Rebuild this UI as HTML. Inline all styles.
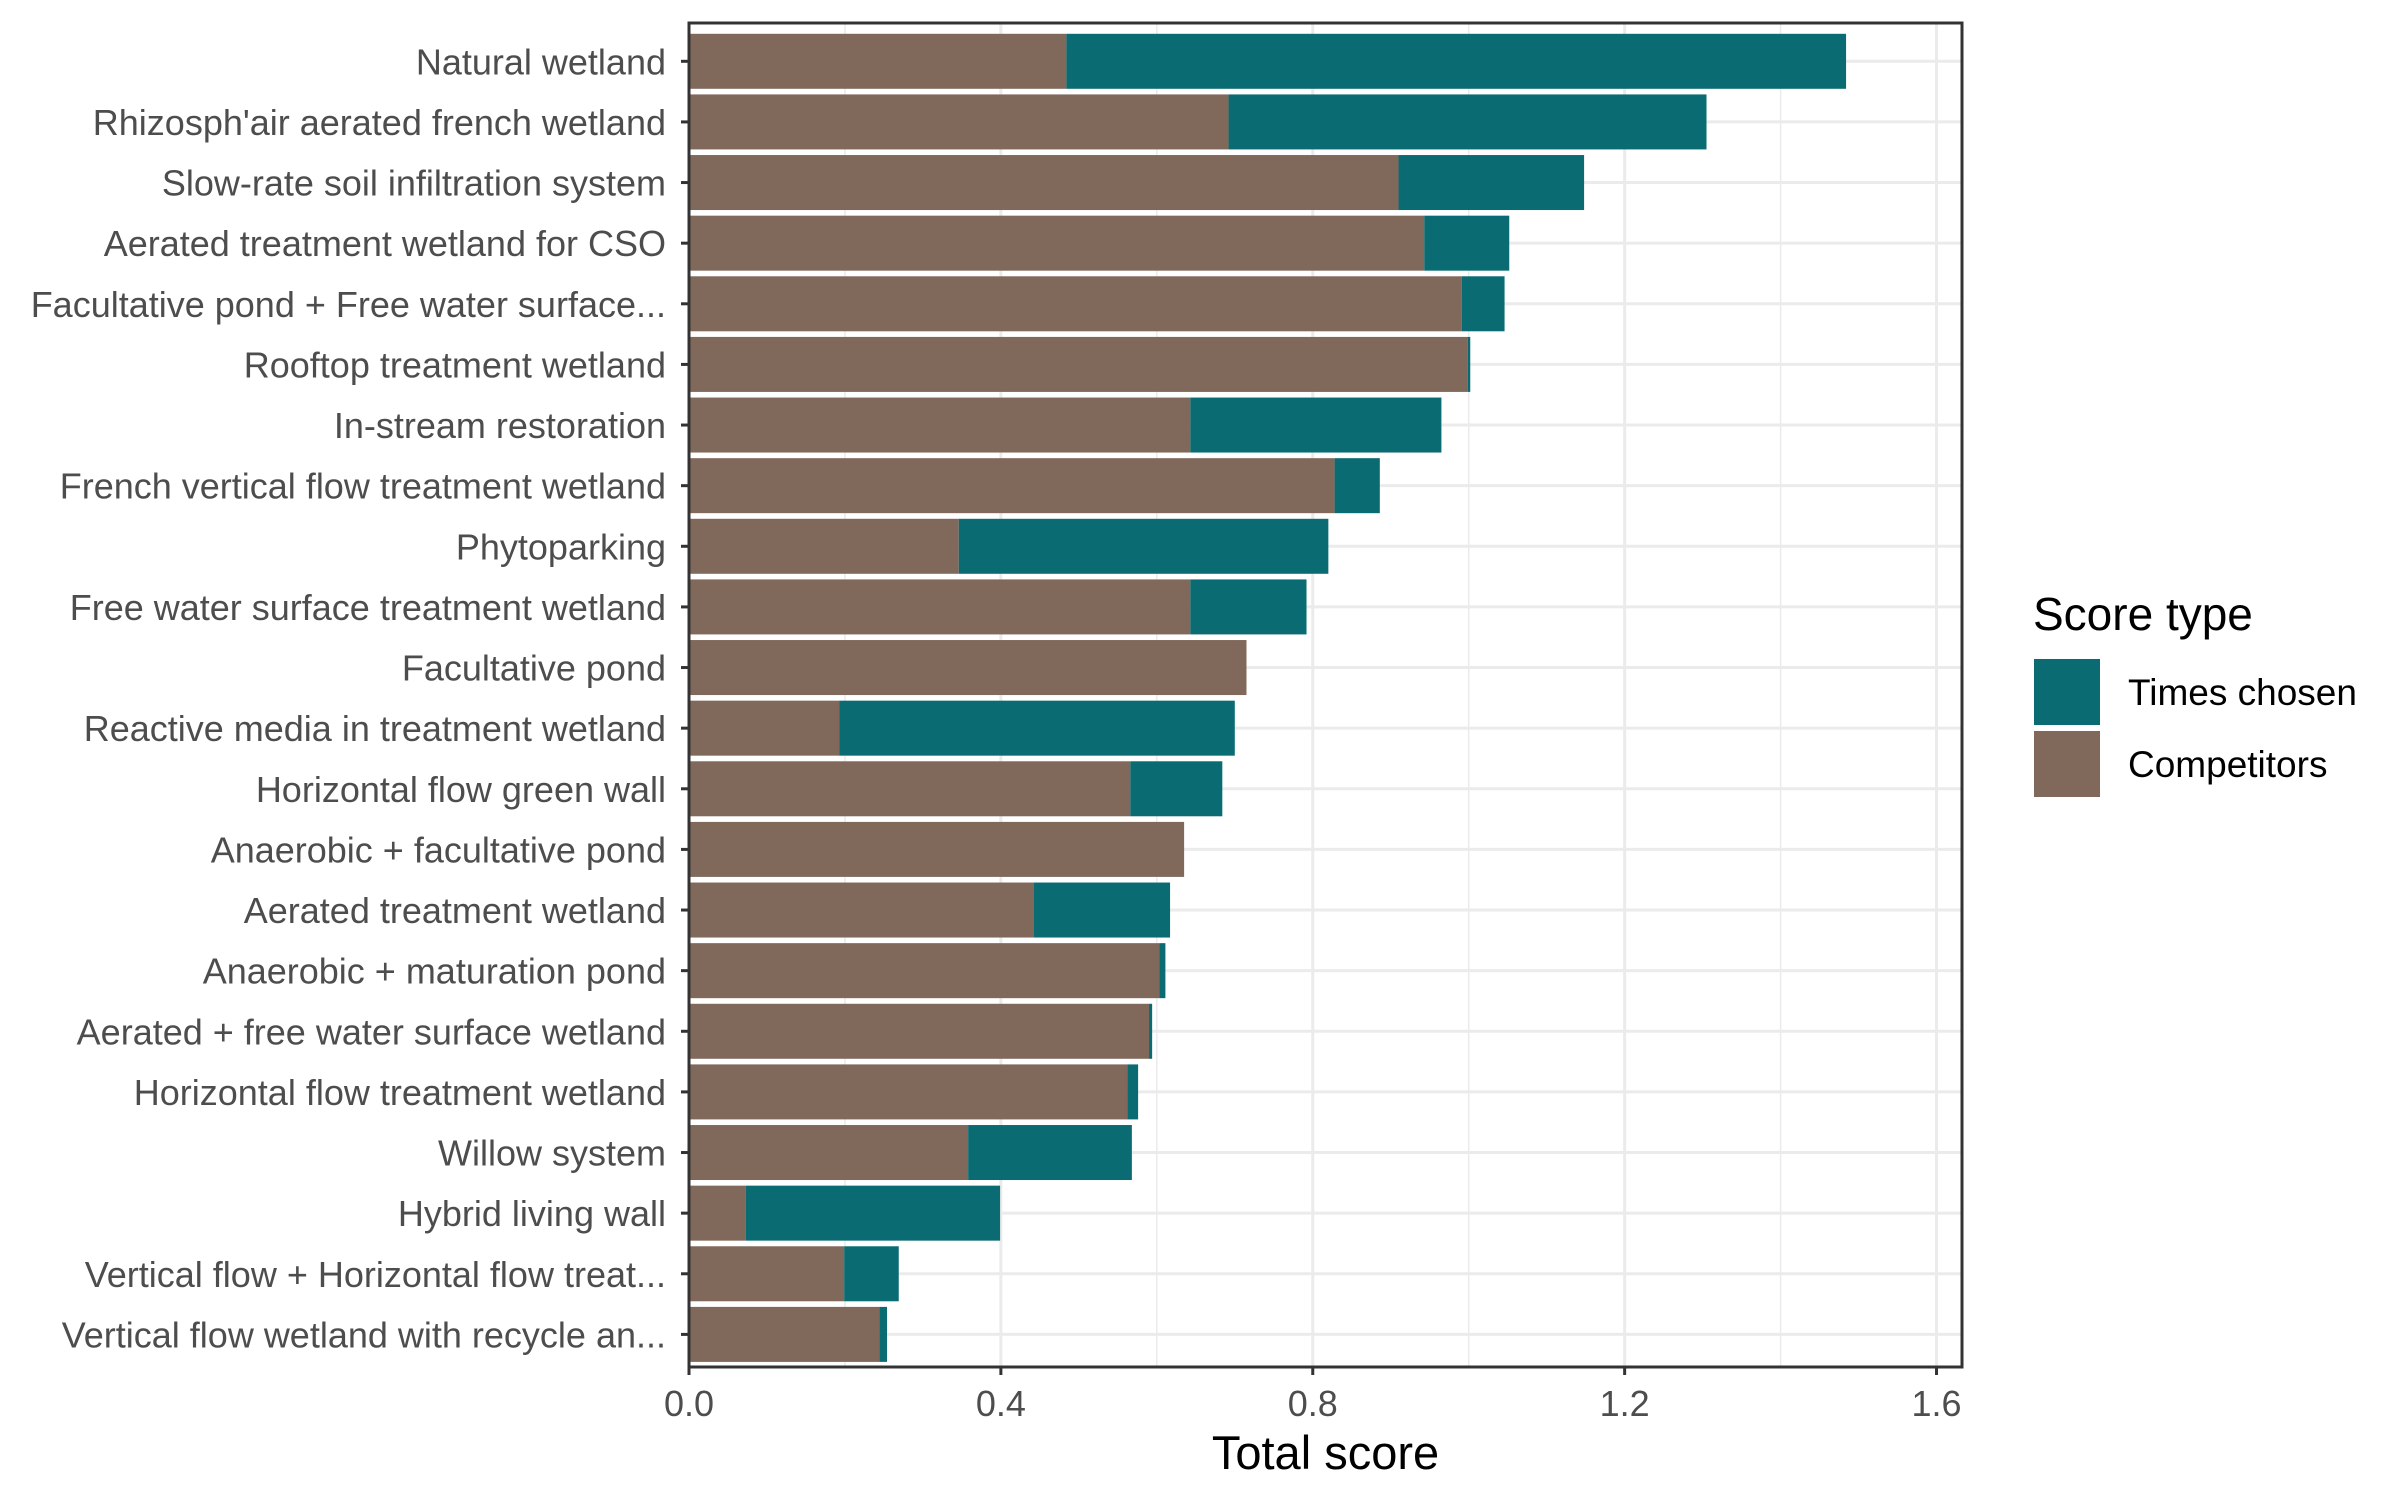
<!DOCTYPE html>
<html><head><meta charset="utf-8"><style>body{margin:0;background:#fff}svg{display:block;font-family:"Liberation Sans",Arial,sans-serif}</style></head>
<body>
<svg id="chart" width="2400" height="1500" viewBox="0 0 2400 1500"></svg>
<script>
const categories=["Natural wetland","Rhizosph'air aerated french wetland","Slow-rate soil infiltration system","Aerated treatment wetland for CSO","Facultative pond + Free water surface...","Rooftop treatment wetland","In-stream restoration","French vertical flow treatment wetland","Phytoparking","Free water surface treatment wetland","Facultative pond","Reactive media in treatment wetland","Horizontal flow green wall","Anaerobic + facultative pond","Aerated treatment wetland","Anaerobic + maturation pond","Aerated + free water surface wetland","Horizontal flow treatment wetland","Willow system","Hybrid living wall","Vertical flow + Horizontal flow treat...","Vertical flow wetland with recycle an..."];
const competitors=[0.484,0.692,0.910,0.943,0.991,0.999,0.643,0.828,0.346,0.643,0.715,0.193,0.566,0.635,0.442,0.603,0.590,0.562,0.358,0.073,0.199,0.244];
const timesChosen=[1.000,0.613,0.238,0.109,0.055,0.003,0.322,0.058,0.474,0.149,0.000,0.507,0.118,0.000,0.175,0.008,0.004,0.014,0.210,0.326,0.070,0.010];
const xTicks=[0,0.4,0.8,1.2,1.6];
const xTickLabels=["0.0","0.4","0.8","1.2","1.6"];
const xMinor=[0.2,0.6,1.0,1.4];

const NS="http://www.w3.org/2000/svg";
const svg=document.getElementById('chart');
const L=689,R=1962,T=23,B=1367;
const x=v=>689+v*779.7;
const y0=61.3,step=(1334.4-61.3)/21,bh=55;
const y=i=>y0+i*step;
function mk(tag,attrs,parent){const e=document.createElementNS(NS,tag);for(const k in attrs)e.setAttribute(k,attrs[k]);(parent||svg).appendChild(e);return e;}
const grid=mk('g',{});


xMinor.forEach(v=>{const l=mk('line',{x1:x(v),x2:x(v),y1:T,y2:B,stroke:'#ebebeb','stroke-width':1.5},grid);});
xTicks.forEach(v=>{const l=mk('line',{x1:x(v),x2:x(v),y1:T,y2:B,stroke:'#ebebeb','stroke-width':3},grid);});
categories.forEach((c,i)=>{const l=mk('line',{x1:L,x2:R,y1:y(i),y2:y(i),stroke:'#ebebeb','stroke-width':3},grid);});
const bars=mk('g',{});


categories.forEach((c,i)=>{
  const a=mk('rect',{x:x(0),y:y(i)-bh/2,width:x(competitors[i])-x(0),height:bh,fill:'#80685b'},bars);
  
  
  const b=mk('rect',{x:x(competitors[i]),y:y(i)-bh/2,width:x(competitors[i]+timesChosen[i])-x(competitors[i]),height:bh,fill:'#0b6b72'},bars);
  
  
  const t=mk('text',{x:666,y:y(i)+13,'text-anchor':'end','font-size':36,fill:'#4d4d4d'});
  t.textContent=c;
  
  
  const tk=mk('line',{x1:L-8,x2:L,y1:y(i),y2:y(i),stroke:'#333','stroke-width':3});
  
  
});
const border=mk('rect',{x:L,y:T,width:R-L,height:B-T,fill:'none',stroke:'#333','stroke-width':3});


xTicks.forEach((v,i)=>{
  const tk=mk('line',{x1:x(v),x2:x(v),y1:B,y2:B+8,stroke:'#333','stroke-width':3});
  
  
  const t=mk('text',{x:x(v),y:1416,'text-anchor':'middle','font-size':36,fill:'#4d4d4d'});
  t.textContent=xTickLabels[i];
  
  
});
const xt=mk('text',{x:(L+R)/2,y:1469,'text-anchor':'middle','font-size':47,fill:'#000'});
xt.textContent='Total score';


const lg=mk('g',{});


const lt=mk('text',{x:2033,y:630,'font-size':46,fill:'#000'},lg);
lt.textContent='Score type';


[['Times chosen','#0b6b72',659],['Competitors','#80685b',731]].forEach(([n,col,yy])=>{
  const r=mk('rect',{x:2034,y:yy,width:66,height:66,fill:col},lg);
  
  
  const t=mk('text',{x:2128,y:yy+46,'font-size':37,fill:'#000'},lg);
  t.textContent=n;
  
  
});
</script>
</body></html>
